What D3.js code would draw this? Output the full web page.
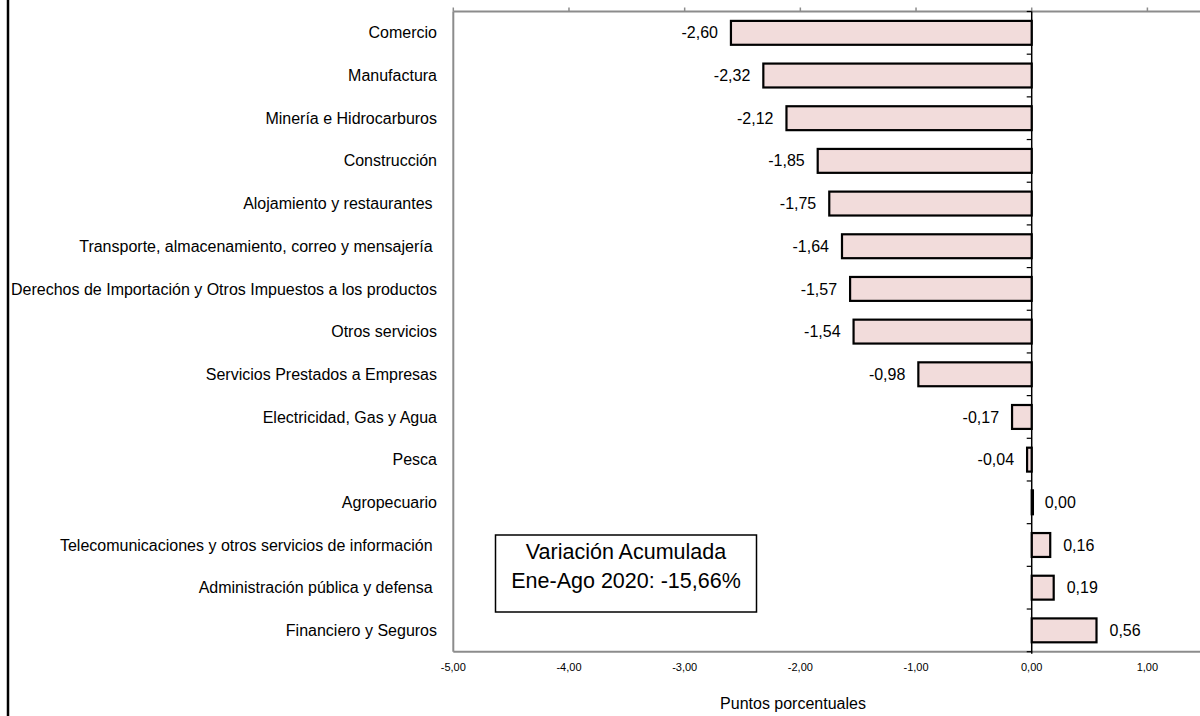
<!DOCTYPE html>
<html>
<head>
<meta charset="utf-8">
<script src="https://cdn.jsdelivr.net/npm/d3@7"></script>
<style>
  html, body { margin: 0; padding: 0; background: #ffffff; }
  svg { display: block; font-family: "Liberation Sans", Arial, sans-serif; }
  text { white-space: pre; }
</style>
</head>
<body>
<svg id="chart" width="1200" height="716"></svg>
<script>
const categories = [
  "Comercio",
  "Manufactura",
  "Minería e Hidrocarburos",
  "Construcción",
  "Alojamiento y restaurantes ",
  "Transporte, almacenamiento, correo y mensajería ",
  "Derechos de Importación y Otros Impuestos a los productos",
  "Otros servicios",
  "Servicios Prestados a Empresas",
  "Electricidad, Gas y Agua",
  "Pesca",
  "Agropecuario",
  "Telecomunicaciones y otros servicios de información ",
  "Administración pública y defensa ",
  "Financiero y Seguros"
];
const values = [-2.60, -2.32, -2.12, -1.85, -1.75, -1.64, -1.57, -1.54, -0.98, -0.17, -0.04, 0.00, 0.16, 0.19, 0.56];
const xTicks = [-5, -4, -3, -2, -1, 0, 1];
const xTitle = "Puntos porcentuales";
const noteLines = ["Variación Acumulada", "Ene-Ago 2020: -15,66%"];

(function () {
const svg = d3.select("#chart");
const locale = d3.formatLocale({decimal: ",", thousands: ".", grouping: [3], currency: ["", ""], minus: "-"});
const fmt = locale.format(".2f");

const plotTop = 11.5, plotBottom = 651.7, plotLeft = 453.3;
const x = d3.scaleLinear().domain([-5, 1]).range([plotLeft, 1147.4]);
const y = d3.scaleBand().domain(categories).range([plotTop, plotBottom]).paddingInner(0.44).paddingOuter(0.22);
const step = y.step();

// outer chart border (left edge)
svg.append("line").attr("x1", 8).attr("x2", 8).attr("y1", 0).attr("y2", 716)
  .attr("stroke", "#000").attr("stroke-width", 2.5);

// plot frame (gray)
const gray = "#8c8c8c";
svg.append("line").attr("x1", plotLeft).attr("x2", 1200).attr("y1", plotTop).attr("y2", plotTop)
  .attr("stroke", gray).attr("stroke-width", 2);
svg.append("line").attr("x1", plotLeft).attr("x2", 1200).attr("y1", plotBottom).attr("y2", plotBottom)
  .attr("stroke", gray).attr("stroke-width", 2);
svg.append("line").attr("x1", plotLeft).attr("x2", plotLeft).attr("y1", plotTop).attr("y2", plotBottom)
  .attr("stroke", gray).attr("stroke-width", 2);

// top ticks pointing up
svg.append("g").selectAll("line").data(xTicks).join("line")
  .attr("x1", d => x(d)).attr("x2", d => x(d))
  .attr("y1", plotTop - 4).attr("y2", plotTop)
  .attr("stroke", gray).attr("stroke-width", 1.5);

// bottom tick labels
svg.append("g").selectAll("text").data(xTicks).join("text")
  .attr("x", d => x(d)).attr("y", 671)
  .attr("text-anchor", "middle")
  .attr("font-size", 11).attr("fill", "#000")
  .text(d => fmt(d));

// axis title
svg.append("text").attr("x", 793).attr("y", 709)
  .attr("text-anchor", "middle").attr("font-size", 16).attr("fill", "#000")
  .text(xTitle);

// bars
svg.append("g").selectAll("rect").data(values).join("rect")
  .attr("x", (d) => x(Math.min(0, d)))
  .attr("y", (d, i) => y(categories[i]))
  .attr("width", d => Math.max(1.2, Math.abs(x(d) - x(0))))
  .attr("height", y.bandwidth())
  .attr("fill", "#f2dcdb")
  .attr("stroke", "#000").attr("stroke-width", 2.2);

// zero axis line
svg.append("line").attr("x1", x(0)).attr("x2", x(0)).attr("y1", plotTop).attr("y2", plotBottom + 2)
  .attr("stroke", "#000").attr("stroke-width", 1.5);
// zero axis ticks at category boundaries
svg.append("g").selectAll("line").data(d3.range(categories.length + 1)).join("line")
  .attr("x1", x(0) - 5).attr("x2", x(0))
  .attr("y1", i => plotTop + i * step).attr("y2", i => plotTop + i * step)
  .attr("stroke", "#000").attr("stroke-width", 1.2);

// value labels
svg.append("g").selectAll("text").data(values).join("text")
  .attr("x", d => d < 0 ? x(d) - 13 : x(d) + 13)
  .attr("y", (d, i) => y(categories[i]) + y.bandwidth() / 2)
  .attr("dy", "0.35em")
  .attr("text-anchor", d => d < 0 ? "end" : "start")
  .attr("font-size", 16).attr("fill", "#000")
  .text(d => fmt(d));

// category labels
svg.append("g").selectAll("text").data(categories).join("text")
  .attr("x", 437)
  .attr("y", d => y(d) + y.bandwidth() / 2)
  .attr("dy", "0.35em")
  .attr("text-anchor", "end")
  .attr("font-size", 16).attr("fill", "#000")
  .text(d => d);

// note box
const box = svg.append("g");
box.append("rect").attr("x", 495.5).attr("y", 535).attr("width", 261).attr("height", 77)
  .attr("fill", "#fff").attr("stroke", "#000").attr("stroke-width", 1.5);
box.selectAll("text").data(noteLines).join("text")
  .attr("x", 626).attr("y", (d, i) => 559 + i * 29)
  .attr("text-anchor", "middle").attr("font-size", 21.5).attr("fill", "#000")
  .text(d => d);
})();
</script>
</body>
</html>
